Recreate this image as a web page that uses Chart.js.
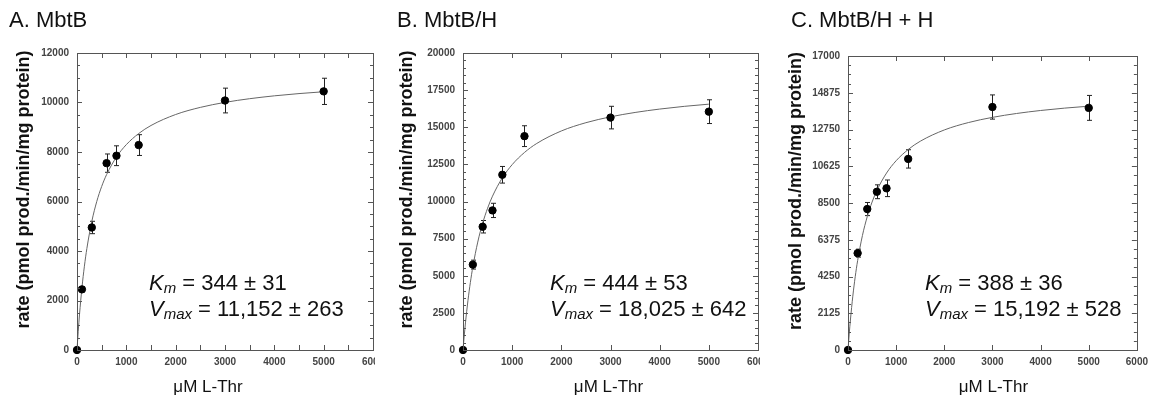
<!DOCTYPE html>
<html lang="en">
<head>
  <meta charset="UTF-8" />
  <title>MbtB kinetics</title>
  <script src="https://cdn.jsdelivr.net/npm/chart.js"></script>
  <style>
    body {
      margin: 0;
      width: 1150px;
      height: 398px;
      overflow: hidden;
      background: #fff;
      position: relative;
    }
    .panel {
      position: absolute;
      top: 0;
      height: 398px;
      overflow: hidden;
    }
    .panel canvas {
      position: absolute;
      left: 0;
      top: 0;
    }
  </style>
</head>
<body>
  <div class="panel" id="wrapA"><canvas id="chartA"></canvas></div>
  <div class="panel" id="wrapB"><canvas id="chartB"></canvas></div>
  <div class="panel" id="wrapC"><canvas id="chartC"></canvas></div>

  <script>
    // --- data ---
    const xTicks = [0, 1000, 2000, 3000, 4000, 5000, 6000];

    // A. MbtB
    const xA = [0, 100, 300, 600, 800, 1250, 3000, 5000];
    const yA = [0, 2450, 4950, 7550, 7850, 8280, 10080, 10450];
    const errA = [0, 100, 250, 370, 400, 420, 500, 530];
    const yTicksA = [0, 2000, 4000, 6000, 8000, 10000, 12000];

    // B. MbtB/H
    const xB = [0, 200, 400, 600, 800, 1250, 3000, 5000];
    const yB = [0, 5750, 8300, 9400, 11800, 14400, 15650, 16050];
    const errB = [0, 300, 420, 480, 560, 700, 760, 800];
    const yTicksB = [0, 2500, 5000, 7500, 10000, 12500, 15000, 17500, 20000];

    // C. MbtB/H + H
    const xC = [0, 200, 400, 600, 800, 1250, 3000, 5000];
    const yC = [0, 5600, 8150, 9150, 9350, 11050, 14050, 14000];
    const errC = [0, 230, 380, 400, 480, 530, 700, 720];
    const yTicksC = [0, 2125, 4250, 6375, 8500, 10625, 12750, 14875, 17000];

    // fitted curves, sampled along x
    const fitX = [0, 25, 50, 100, 150, 200, 300, 400, 500, 600, 800, 1000, 1250, 1500, 2000, 2500, 3000, 3500, 4000, 4500, 5000];
    const fitA = [0, 756, 1415, 2512, 3386, 4100, 5195, 5996, 6607, 7088, 7799, 8298, 8745, 9071, 9515, 9803, 10005, 10154, 10269, 10360, 10434];
    const fitB = [0, 961, 1824, 3313, 4552, 5598, 7268, 8543, 9547, 10359, 11592, 12483, 13301, 13908, 14750, 15307, 15701, 15996, 16224, 16407, 16555];
    const fitC = [0, 920, 1734, 3113, 4236, 5167, 6624, 7712, 8554, 9226, 10230, 10945, 11593, 12070, 12723, 13151, 13452, 13676, 13849, 13986, 14098];

    const FONT = '"Liberation Sans", Arial, Helvetica, sans-serif';

    const panels = [
      { key: 'A', title: 'A. MbtB', x: xA, y: yA, err: errA, fit: fitA, yTicks: yTicksA, yMinorDiv: 4, xMarkStep: 500,
        km: ' = 344 \u00b1 31', vmax: ' = 11,152 \u00b1 263',
        canvasLeft: 0, canvasW: 400, clipW: 375, axisW: 77, padRight: 27, padTop: 53,
        titleX: 9, yTitleOff: 53, xTitleDx: -17, annDx: 72 },
      { key: 'B', title: 'B. MbtB/H', x: xB, y: yB, err: errB, fit: fitB, yTicks: yTicksB, yMinorDiv: 5, xMarkStep: 1000,
        km: ' = 444 \u00b1 53', vmax: ' = 18,025 \u00b1 642',
        canvasLeft: 385, canvasW: 400, clipW: 375, axisW: 78, padRight: 27, padTop: 53,
        titleX: 12, yTitleOff: 56, xTitleDx: -2, annDx: 87 },
      { key: 'C', title: 'C. MbtB/H + H', x: xC, y: yC, err: errC, fit: fitC, yTicks: yTicksC, yMinorDiv: 4, xMarkStep: 1000,
        km: ' = 388 \u00b1 36', vmax: ' = 15,192 \u00b1 528',
        canvasLeft: 770, canvasW: 384, clipW: 384, axisW: 78, padRight: 14, padTop: 56,
        titleX: 21, yTitleOff: 52, xTitleDx: 1, annDx: 77 }
    ];

    function subText(ctx, x, y, main, sub, rest) {
      ctx.font = 'italic 22px ' + FONT;
      ctx.fillText(main, x, y);
      x += ctx.measureText(main).width;
      ctx.font = 'italic 15px ' + FONT;
      ctx.fillText(sub, x, y + 3);
      x += ctx.measureText(sub).width;
      ctx.font = '22px ' + FONT;
      ctx.fillText(rest, x, y);
    }

    function makeDecor(p) {
      return {
        id: 'decor' + p.key,
        beforeDatasetsDraw(chart) {
          const ctx = chart.ctx;
          const xs = chart.scales.x, ys = chart.scales.y;
          ctx.save();
          ctx.strokeStyle = '#222';
          ctx.lineWidth = 1;
          p.x.forEach((xv, i) => {
            const e = p.err[i];
            if (!e) return;
            const px = Math.round(xs.getPixelForValue(xv)) + 0.5;
            const t = ys.getPixelForValue(p.y[i] + e);
            const b = ys.getPixelForValue(p.y[i] - e);
            ctx.beginPath();
            ctx.moveTo(px, t); ctx.lineTo(px, b);
            ctx.moveTo(px - 2.5, t); ctx.lineTo(px + 2.5, t);
            ctx.moveTo(px - 2.5, b); ctx.lineTo(px + 2.5, b);
            ctx.stroke();
          });
          ctx.restore();
        },
        afterDraw(chart) {
          const ctx = chart.ctx;
          const { left, right, top, bottom } = chart.chartArea;
          const xs = chart.scales.x, ys = chart.scales.y;
          ctx.save();
          ctx.strokeStyle = '#555';
          ctx.lineWidth = 1;
          ctx.strokeRect(Math.round(left) + 0.5, Math.round(top) + 0.5, Math.round(right - left), Math.round(bottom - top));

          // inward tick marks on all four sides
          ctx.beginPath();
          const xMax = xTicks[xTicks.length - 1];
          for (let v = 0; v <= xMax; v += p.xMarkStep) {
            const px = Math.round(xs.getPixelForValue(v)) + 0.5;
            ctx.moveTo(px, bottom); ctx.lineTo(px, bottom - 5);
            ctx.moveTo(px, top); ctx.lineTo(px, top + 5);
          }
          const yMax = p.yTicks[p.yTicks.length - 1];
          const minor = (p.yTicks[1] - p.yTicks[0]) / p.yMinorDiv;
          const n = Math.round(yMax / minor);
          for (let i = 0; i <= n; i++) {
            const py = Math.round(ys.getPixelForValue(i * minor)) + 0.5;
            const len = i % p.yMinorDiv === 0 ? 5 : 3;
            ctx.moveTo(left, py); ctx.lineTo(left + len, py);
            ctx.moveTo(right, py); ctx.lineTo(right - len, py);
          }
          ctx.stroke();

          ctx.fillStyle = '#111';
          // panel title
          ctx.font = '22px ' + FONT;
          ctx.textAlign = 'left';
          ctx.textBaseline = 'alphabetic';
          ctx.fillText(p.title, p.titleX, 27);

          // axis titles
          ctx.font = '17px ' + FONT;
          ctx.textAlign = 'center';
          ctx.fillText('\u03bcM L-Thr', (left + right) / 2 + p.xTitleDx, bottom + 42);

          ctx.save();
          ctx.translate(left - p.yTitleOff, (top + bottom) / 2 - 12);
          ctx.rotate(-Math.PI / 2);
          ctx.font = 'bold 18px ' + FONT;
          ctx.textBaseline = 'middle';
          ctx.fillText('rate (pmol prod./min/mg protein)', 0, 0);
          ctx.restore();

          // fit parameters
          ctx.textAlign = 'left';
          ctx.textBaseline = 'alphabetic';
          subText(ctx, left + p.annDx, bottom - 60, 'K', 'm', p.km);
          subText(ctx, left + p.annDx, bottom - 34, 'V', 'max', p.vmax);
          ctx.restore();
        }
      };
    }

    function renderPanel(p) {
      const wrap = document.getElementById('wrap' + p.key);
      wrap.style.left = p.canvasLeft + 'px';
      wrap.style.width = p.clipW + 'px';
      const canvas = document.getElementById('chart' + p.key);
      canvas.width = p.canvasW;
      canvas.height = 398;
      canvas.style.width = p.canvasW + 'px';
      canvas.style.height = '398px';

      const tickFont = { family: FONT, size: 10, weight: 'bold' };

      new Chart(canvas.getContext('2d'), {
        type: 'scatter',
        data: {
          datasets: [
            {
              label: 'data',
              data: p.x.map((v, i) => ({ x: v, y: p.y[i] })),
              backgroundColor: '#000',
              borderColor: '#000',
              pointRadius: 3.7,
              pointHoverRadius: 3.7,
              clip: false,
              order: 0
            },
            {
              label: 'fit',
              data: fitX.map((v, i) => ({ x: v, y: p.fit[i] })),
              showLine: true,
              borderColor: '#666',
              borderWidth: 1,
              pointRadius: 0,
              cubicInterpolationMode: 'monotone',
              clip: false,
              order: 1
            }
          ]
        },
        options: {
          responsive: false,
          animation: false,
          events: [],
          layout: { padding: { left: 0, right: p.padRight, top: p.padTop, bottom: 0 } },
          plugins: { legend: { display: false }, tooltip: { enabled: false } },
          scales: {
            x: {
              type: 'linear',
              min: 0,
              max: xTicks[xTicks.length - 1],
              afterBuildTicks: s => { s.ticks = xTicks.map(v => ({ value: v })); },
              afterFit: s => { s.height = 48; },
              grid: { display: false, drawTicks: false },
              border: { display: false },
              ticks: { color: '#444', font: tickFont, padding: 6, maxRotation: 0, autoSkip: false, callback: v => String(v) }
            },
            y: {
              type: 'linear',
              min: 0,
              max: p.yTicks[p.yTicks.length - 1],
              afterBuildTicks: s => { s.ticks = p.yTicks.map(v => ({ value: v })); },
              afterFit: s => { s.width = p.axisW; },
              grid: { display: false, drawTicks: false },
              border: { display: false },
              ticks: { color: '#444', font: tickFont, padding: 8, autoSkip: false, callback: v => String(v) }
            }
          }
        },
        plugins: [makeDecor(p)]
      });
    }

    panels.forEach(renderPanel);
  </script>
</body>
</html>
